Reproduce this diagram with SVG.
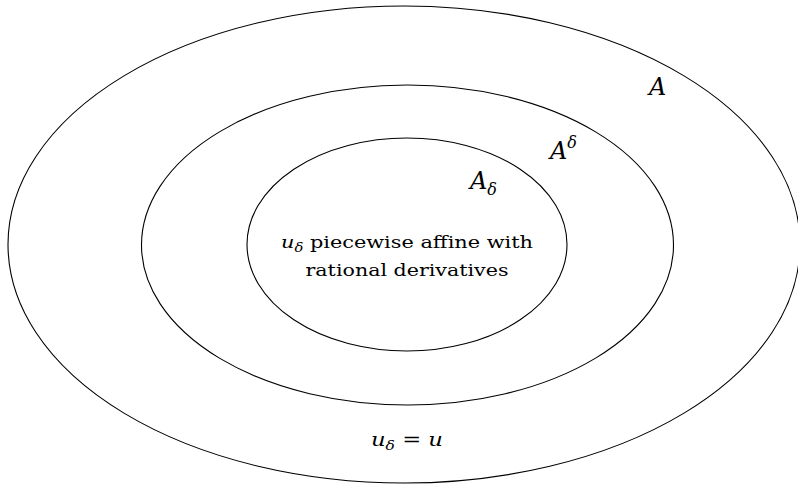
<svg xmlns="http://www.w3.org/2000/svg" width="798" height="484" viewBox="0 0 798 484">
<style>
.e{fill:none;stroke:#000;stroke-width:1.1}
.t{font-family:'DejaVu Serif',serif;fill:#000}
.m{font-family:'DejaVu Serif',serif;font-style:italic;fill:#000}
</style>
<rect width="798" height="484" fill="#fff"/>
<g id="outer"><ellipse class="e" cx="404" cy="244.5" rx="396" ry="238.5"/>
<text class="m" x="649" y="95" font-size="24">A</text></g>
<g id="middle"><ellipse class="e" cx="407.5" cy="245" rx="266" ry="160"/>
<text class="m" x="550" y="159" font-size="24">A<tspan font-size="16" dy="-11">δ</tspan></text></g>
<g id="inner"><ellipse class="e" cx="407" cy="244.5" rx="160" ry="106.5"/>
<text class="m" x="470" y="189" font-size="24">A<tspan font-size="16" dy="6">δ</tspan></text>
<text class="t" x="407" y="248" font-size="17" text-anchor="middle" textLength="252" lengthAdjust="spacingAndGlyphs"><tspan font-style="italic">u</tspan><tspan font-style="italic" font-size="12" dy="4">δ</tspan><tspan dy="-4"> piecewise affine with</tspan></text>
<text class="t" x="407" y="276" font-size="17" text-anchor="middle" textLength="203" lengthAdjust="spacingAndGlyphs">rational derivatives</text></g>
<g id="connectors"></g>
<text class="t" x="407" y="446" font-size="19" text-anchor="middle" textLength="72" lengthAdjust="spacingAndGlyphs"><tspan font-style="italic">u</tspan><tspan font-style="italic" font-size="13" dy="4">δ</tspan><tspan dy="-4"> = </tspan><tspan font-style="italic">u</tspan></text>
</svg>
